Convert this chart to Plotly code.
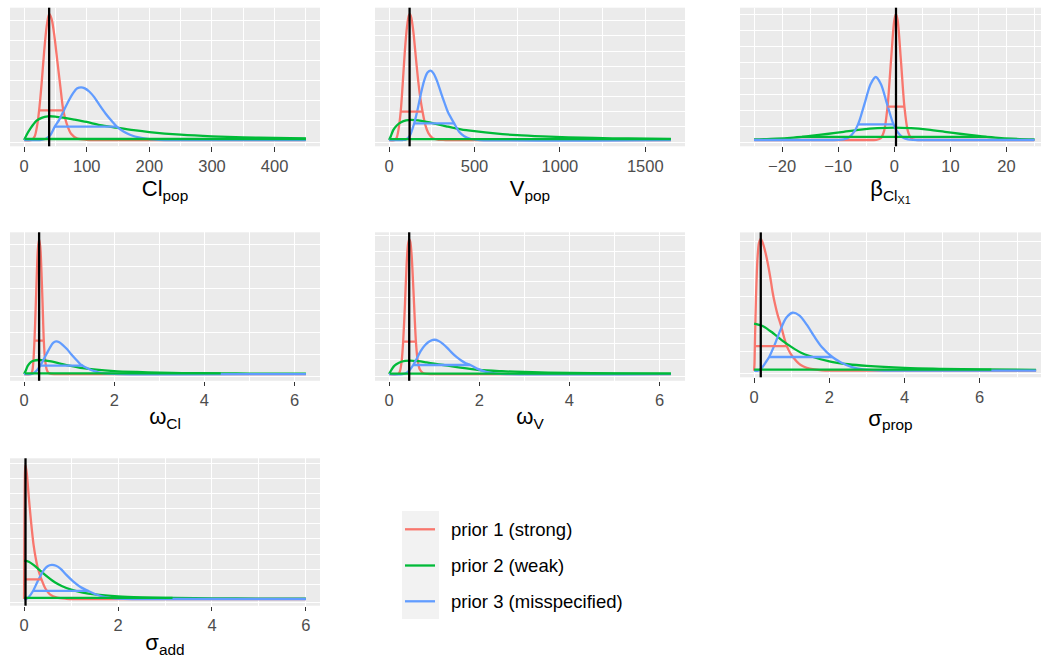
import plotly.graph_objects as go

W, H = 1041, 660
RED, GREEN, BLUE = "#F8766D", "#00BA38", "#619CFF"

# ---------------- Cl_pop ----------------
clpop_red_x = [0, 12, 17, 21, 24, 28, 32, 36, 40, 44, 48, 53, 58, 62.6, 68, 75, 85, 100, 120, 450]
clpop_red_y = [0, 0, 0.03, 0.12, 0.235, 0.45, 0.7, 0.9, 1.0, 0.96, 0.84, 0.63, 0.42, 0.235, 0.13, 0.05, 0.012, 0.002, 0, 0]
clpop_green_x = [0, 5, 10, 15, 20, 28, 38, 50, 65, 80, 100, 121, 148, 175, 200, 250, 300, 350, 400, 450]
clpop_green_y = [0, 0.05, 0.09, 0.125, 0.153, 0.176, 0.188, 0.186, 0.175, 0.162, 0.143, 0.119, 0.098, 0.078, 0.063, 0.042, 0.029, 0.021, 0.016, 0.013]
clpop_blue_x = [0, 25, 35, 42, 49, 56, 63, 70, 78, 85, 91, 97, 104, 112, 120, 130, 140, 148, 158, 170, 185, 200, 215, 240, 450]
clpop_blue_y = [0, 0, 0.01, 0.04, 0.106, 0.16, 0.23, 0.3, 0.37, 0.41, 0.418, 0.41, 0.385, 0.34, 0.28, 0.21, 0.15, 0.106, 0.07, 0.04, 0.018, 0.007, 0.002, 0, 0]
clpop_hdi = {"red": (24, 62.6, 0.235), "green": (1, 450, 0.008), "blue": (49, 148, 0.106)}
clpop_true = 40

# ---------------- V_pop ----------------
vpop_red_x = [0, 35, 45, 55, 68, 80, 92, 105, 115, 121, 130, 142, 155, 168, 182, 196, 212, 230, 255, 290, 330, 1650]
vpop_red_y = [0, 0, 0.02, 0.08, 0.225, 0.45, 0.7, 0.9, 0.985, 1.0, 0.97, 0.86, 0.68, 0.5, 0.34, 0.225, 0.12, 0.055, 0.015, 0.002, 0, 0]
vpop_green_x = [0, 10, 25, 45, 70, 100, 130, 170, 220, 280, 340, 420, 500, 620, 750, 900, 1050, 1200, 1400, 1650]
vpop_green_y = [0, 0.03, 0.08, 0.115, 0.14, 0.155, 0.159, 0.155, 0.143, 0.125, 0.107, 0.085, 0.07, 0.052, 0.038, 0.028, 0.021, 0.016, 0.012, 0.009]
vpop_blue_x = [0, 80, 100, 120, 147, 165, 185, 205, 225, 244, 262, 283, 305, 323, 345, 381, 410, 440, 480, 530, 1650]
vpop_blue_y = [0, 0, 0.005, 0.03, 0.132, 0.23, 0.36, 0.47, 0.535, 0.55, 0.525, 0.46, 0.37, 0.3, 0.22, 0.132, 0.065, 0.03, 0.008, 0, 0]
vpop_hdi = {"red": (68, 196, 0.225), "green": (3, 1650, 0.007), "blue": (147, 381, 0.132)}
vpop_true = 120

# ---------------- beta_Cl_X1 ----------------
beta_red_x = [-25, -4, -3.2, -2.4, -1.8, -1.2, -0.6, 0, 0.3, 0.6, 1.2, 1.8, 2.4, 3.0, 3.8, 4.6, 25]
beta_red_y = [0, 0, 0.001, 0.014, 0.074, 0.265, 0.62, 0.948, 1.0, 0.948, 0.62, 0.265, 0.074, 0.014, 0.001, 0, 0]
beta_green_x = [-25, -21, -18, -16.45, -15, -12, -9, -6, -3, 0, 3, 6, 9, 12, 15, 16.45, 18, 21, 25]
beta_green_y = [0.0043, 0.0108, 0.0195, 0.0253, 0.0318, 0.0476, 0.0653, 0.082, 0.0937, 0.098, 0.0937, 0.082, 0.0653, 0.0476, 0.0318, 0.0253, 0.0195, 0.0108, 0.0043]
beta_blue_x = [-25, -10.9, -9.95, -9.0, -8.05, -7.1, -6.465, -6.15, -5.2, -4.25, -3.3, -2.35, -1.4, -0.45, -0.135, 0.5, 1.45, 2.4, 3.35, 4.3, 25]
beta_blue_y = [0, 0, 0.001, 0.0056, 0.022, 0.068, 0.124, 0.162, 0.303, 0.441, 0.5, 0.441, 0.303, 0.162, 0.124, 0.068, 0.022, 0.0056, 0.001, 0, 0]
beta_hdi = {"red": (-1.2, 1.8, 0.265), "green": (-16.45, 16.45, 0.0253), "blue": (-6.465, -0.135, 0.124)}
beta_true = 0.3

# ---------------- omega_Cl ----------------
omcl_red_x = [0, 0.15, 0.18, 0.205, 0.23, 0.255, 0.28, 0.305, 0.333, 0.36, 0.385, 0.41, 0.437, 0.465, 0.5, 0.54, 0.6, 0.7, 6.25]
omcl_red_y = [0, 0, 0.02, 0.09, 0.247, 0.47, 0.72, 0.92, 1.0, 0.94, 0.76, 0.52, 0.247, 0.11, 0.035, 0.008, 0.001, 0, 0]
omcl_green_x = [0, 0.03, 0.08, 0.15, 0.22, 0.32, 0.45, 0.6, 0.8, 1.0, 1.3, 1.6, 2.0, 2.5, 3.0, 3.5, 4.36, 5.0, 6.25]
omcl_green_y = [0, 0.02, 0.06, 0.088, 0.099, 0.104, 0.101, 0.093, 0.078, 0.063, 0.044, 0.032, 0.022, 0.015, 0.01, 0.0075, 0.005, 0.0038, 0.0025]
omcl_blue_x = [0, 0.15, 0.22, 0.29, 0.36, 0.43, 0.5, 0.58, 0.65, 0.71, 0.78, 0.86, 0.95, 1.05, 1.15, 1.25, 1.3, 1.36, 1.5, 1.65, 1.85, 2.1, 6.25]
omcl_blue_y = [0, 0, 0.008, 0.03, 0.062, 0.105, 0.15, 0.2, 0.232, 0.242, 0.236, 0.215, 0.185, 0.145, 0.108, 0.072, 0.062, 0.05, 0.028, 0.013, 0.004, 0, 0]
omcl_hdi = {"red": (0.23, 0.437, 0.247), "green": (0.02, 4.36, 0.005), "blue": (0.36, 1.3, 0.062)}
omcl_true = 0.333

# ---------------- omega_V ----------------
omv_red_x = [0, 0.2, 0.24, 0.28, 0.312, 0.35, 0.39, 0.42, 0.446, 0.47, 0.5, 0.54, 0.57, 0.595, 0.63, 0.68, 0.75, 0.85, 0.95, 6.25]
omv_red_y = [0, 0, 0.02, 0.1, 0.24, 0.5, 0.82, 0.96, 1.0, 0.98, 0.88, 0.62, 0.4, 0.24, 0.11, 0.035, 0.008, 0.001, 0, 0]
omv_green_x = [0, 0.05, 0.1, 0.16, 0.27, 0.46, 0.65, 0.83, 1.0, 1.2, 1.4, 1.58, 2.0, 2.5, 3.0, 4.0, 5.0, 6.25]
omv_green_y = [0, 0.03, 0.055, 0.072, 0.091, 0.099, 0.095, 0.086, 0.077, 0.067, 0.056, 0.047, 0.03, 0.021, 0.015, 0.008, 0.005, 0.003]
omv_blue_x = [0, 0.3, 0.4, 0.47, 0.535, 0.6, 0.7, 0.8, 0.9, 1.0, 1.1, 1.2, 1.3, 1.4, 1.5, 1.6, 1.7, 1.8, 1.95, 2.15, 2.35, 2.6, 6.25]
omv_blue_y = [0, 0, 0.012, 0.035, 0.067, 0.105, 0.17, 0.215, 0.243, 0.254, 0.245, 0.222, 0.19, 0.155, 0.125, 0.1, 0.08, 0.067, 0.04, 0.016, 0.005, 0, 0]
omv_hdi = {"red": (0.312, 0.595, 0.24), "green": (0.02, 6.25, 0.003), "blue": (0.535, 1.8, 0.067)}
omv_true = 0.446

# ---------------- sigma_prop ----------------
sprop_red_x = [0, 0.01, 0.02, 0.05, 0.09, 0.13, 0.177, 0.23, 0.3, 0.36, 0.43, 0.49, 0.56, 0.63, 0.71, 0.8, 0.87, 0.97, 1.06, 1.15, 1.24, 1.4, 1.6, 1.8, 2.0, 7.5]
sprop_red_y = [0, 0.05, 0.187, 0.55, 0.85, 0.97, 1.0, 0.97, 0.9, 0.82, 0.71, 0.6, 0.5, 0.42, 0.347, 0.25, 0.187, 0.13, 0.094, 0.065, 0.043, 0.022, 0.01, 0.003, 0, 0]
sprop_green_x = [0, 0.25, 0.5, 0.75, 1.0, 1.25, 1.5, 2.0, 2.5, 3.0, 4.0, 5.0, 6.0, 7.5]
sprop_green_y = [0.357, 0.336, 0.286, 0.228, 0.179, 0.137, 0.11, 0.071, 0.049, 0.036, 0.021, 0.014, 0.0097, 0.0063]
sprop_blue_x = [0, 0.1, 0.2, 0.3, 0.4, 0.55, 0.7, 0.85, 1.02, 1.2, 1.4, 1.6, 1.8, 2.08, 2.3, 2.6, 2.9, 3.3, 3.7, 7.5]
sprop_blue_y = [0, 0, 0.02, 0.06, 0.104, 0.2, 0.31, 0.4, 0.44, 0.42, 0.35, 0.26, 0.18, 0.104, 0.065, 0.028, 0.01, 0.002, 0, 0]
sprop_hdi = {"red": (0.02, 0.87, 0.187), "green": (0, 6.31, 0.0087), "blue": (0.4, 2.08, 0.104)}
sprop_true = 0.177

# ---------------- sigma_add ----------------
sadd_red_x = [0, 0.005, 0.012, 0.02, 0.03, 0.06, 0.1, 0.15, 0.2, 0.25, 0.3, 0.37, 0.45, 0.55, 0.7, 0.9, 1.1, 6]
sadd_red_y = [0, 0.35, 0.75, 0.95, 1.0, 0.93, 0.76, 0.57, 0.41, 0.3, 0.22, 0.147, 0.08, 0.035, 0.01, 0.002, 0, 0]
sadd_green_x = [0, 0.1, 0.2, 0.3, 0.4, 0.5, 0.6, 0.7, 0.8, 1.0, 1.25, 1.5, 2.0, 2.5, 3.0, 3.16, 4.0, 5.0, 6.0]
sadd_green_y = [0.286, 0.278, 0.255, 0.225, 0.195, 0.165, 0.138, 0.115, 0.097, 0.07, 0.048, 0.034, 0.019, 0.012, 0.0085, 0.0077, 0.0048, 0.003, 0.0022]
sadd_blue_x = [0, 0.05, 0.1, 0.19, 0.3, 0.42, 0.5, 0.59, 0.68, 0.78, 0.9, 1.05, 1.2, 1.37, 1.55, 1.75, 2.0, 2.3, 6]
sadd_blue_y = [0, 0, 0.015, 0.06, 0.14, 0.215, 0.245, 0.254, 0.248, 0.225, 0.18, 0.13, 0.09, 0.06, 0.032, 0.013, 0.003, 0, 0]
sadd_hdi = {"red": (0.002, 0.37, 0.147), "green": (0, 3.16, 0.0077), "blue": (0.19, 1.37, 0.06)}
sadd_true = 0.03

prior_names = {"red": "prior 1 (strong)", "green": "prior 2 (weak)", "blue": "prior 3 (misspecified)"}
prior_colors = {"red": RED, "green": GREEN, "blue": BLUE}

# panel layout: pixel boxes (left, right, top, bottom), axis ranges, ticks, grid, title offset
panels = [
    dict(title="Cl<sub>pop</sub>", box=(10, 320, 7.7, 146.3), xr=[-22.5, 472.5], dt=100, mdt=50, so=6.5,
         curves={"red": (clpop_red_x, clpop_red_y), "green": (clpop_green_x, clpop_green_y), "blue": (clpop_blue_x, clpop_blue_y)},
         hdi=clpop_hdi, truth=clpop_true, ygrid=[-0.021, 0.155, 0.313, 0.471, 0.629, 0.787, 0.945]),
    dict(title="V<sub>pop</sub>", box=(375, 685, 7.7, 146.3), xr=[-82.5, 1732.5], dt=500, mdt=250, so=6.5,
         curves={"red": (vpop_red_x, vpop_red_y), "green": (vpop_green_x, vpop_green_y), "blue": (vpop_blue_x, vpop_blue_y)},
         hdi=vpop_hdi, truth=vpop_true, ygrid=[-0.021, 0.111, 0.23, 0.349, 0.468, 0.587, 0.706, 0.826, 0.945]),
    dict(title="β<sub>Cl<sub>X1</sub></sub>", box=(740, 1041, 7.7, 146.3), xr=[-27.5, 26.15], dt=10, mdt=5, so=6.5,
         curves={"red": (beta_red_x, beta_red_y), "green": (beta_green_x, beta_green_y), "blue": (beta_blue_x, beta_blue_y)},
         hdi=beta_hdi, truth=beta_true, ygrid=[-0.021, 0.111, 0.238, 0.364, 0.491, 0.617, 0.744, 0.871, 0.997]),
    dict(title="ω<sub>Cl</sub>", box=(10, 320, 232.3, 380.8), xr=[-0.3125, 6.5625], dt=2, mdt=1, so=0,
         curves={"red": (omcl_red_x, omcl_red_y), "green": (omcl_green_x, omcl_green_y), "blue": (omcl_blue_x, omcl_blue_y)},
         hdi=omcl_hdi, truth=omcl_true, ygrid=[-0.02, 0.148, 0.311, 0.474, 0.637, 0.8, 0.963]),
    dict(title="ω<sub>V</sub>", box=(375, 685, 232.3, 380.8), xr=[-0.3125, 6.5625], dt=2, mdt=1, so=0,
         curves={"red": (omv_red_x, omv_red_y), "green": (omv_green_x, omv_green_y), "blue": (omv_blue_x, omv_blue_y)},
         hdi=omv_hdi, truth=omv_true, ygrid=[-0.02, 0.109, 0.223, 0.338, 0.452, 0.567, 0.682, 0.796, 0.911, 1.026]),
    dict(title="σ<sub>prop</sub>", box=(740, 1041, 232.4, 377.3), xr=[-0.375, 7.63], dt=2, mdt=1, so=3.5,
         curves={"red": (sprop_red_x, sprop_red_y), "green": (sprop_green_x, sprop_green_y), "blue": (sprop_blue_x, sprop_blue_y)},
         hdi=sprop_hdi, truth=sprop_true, ygrid=[-0.02, 0.144, 0.283, 0.422, 0.561, 0.7, 0.839, 0.978]),
    dict(title="σ<sub>add</sub>", box=(10, 320, 458.3, 605.7), xr=[-0.3, 6.3], dt=2, mdt=1, so=1.5,
         curves={"red": (sadd_red_x, sadd_red_y), "green": (sadd_green_x, sadd_green_y), "blue": (sadd_blue_x, sadd_blue_y)},
         hdi=sadd_hdi, truth=sadd_true, ygrid=[-0.025, 0.109, 0.222, 0.335, 0.448, 0.561, 0.674, 0.787, 0.9, 1.013]),
]

FONT = "Liberation Sans, Arial, Helvetica, sans-serif"
fig = go.Figure()
layout = dict(
    width=W, height=H, margin=dict(l=0, r=0, t=0, b=0),
    paper_bgcolor="white", plot_bgcolor="#EBEBEB", showlegend=False,
    font=dict(family=FONT, color="#4D4D4D"),
)
shapes = []
annotations = []

for i, p in enumerate(panels, start=1):
    sfx = "" if i == 1 else str(i)
    xa, ya = "x" + sfx, "y" + sfx
    l, r, t, b = p["box"]
    layout["xaxis" + sfx] = dict(
        domain=[l / W, r / W], anchor=ya, range=p["xr"], dtick=p["dt"], tick0=0,
        showgrid=True, gridcolor="white", gridwidth=1.1, zeroline=False, showline=False,
        ticks="outside", ticklen=4.5, tickwidth=1.2, tickcolor="#333333",
        tickfont=dict(size=16.5, color="#4D4D4D"),
        minor=dict(dtick=p["mdt"], tick0=0, showgrid=True, gridcolor="white", gridwidth=0.55, ticks=""),
        title=dict(text=p["title"], font=dict(size=22, color="black"), standoff=p["so"]),
        fixedrange=True,
    )
    layout["yaxis" + sfx] = dict(
        domain=[1 - b / H, 1 - t / H], anchor=xa, range=[-0.05, 1.05],
        tickmode="array", tickvals=p["ygrid"], showticklabels=False, ticks="",
        showgrid=True, gridcolor="white", gridwidth=1.0, zeroline=False, showline=False,
        fixedrange=True,
    )
    for key in ("red", "green", "blue"):
        cx, cy = p["curves"][key]
        fig.add_trace(go.Scatter(
            x=cx, y=cy, mode="lines", name=prior_names[key], legendgroup=key,
            line=dict(color=prior_colors[key], width=2.3, shape="spline", smoothing=0.8),
            xaxis=xa, yaxis=ya, hoverinfo="skip",
        ))
    for key in ("red", "green", "blue"):
        x0, x1, yv = p["hdi"][key]
        fig.add_trace(go.Scatter(
            x=[x0, x1], y=[yv, yv], mode="lines", name=prior_names[key], legendgroup=key,
            line=dict(color=prior_colors[key], width=2.3),
            xaxis=xa, yaxis=ya, hoverinfo="skip",
        ))
    shapes.append(dict(type="line", xref=xa, yref=ya + " domain", x0=p["truth"], x1=p["truth"],
                       y0=0, y1=1, line=dict(color="black", width=2.3), layer="above"))

# legend: key background, key lines and labels
shapes.append(dict(type="rect", xref="paper", yref="paper", x0=402 / W, x1=439 / W,
                   y0=1 - 619 / H, y1=1 - 511 / H, fillcolor="#F2F2F2", line=dict(width=0), layer="below"))
for k, (key, yc) in enumerate(zip(("red", "green", "blue"), (529.3, 565.5, 601.3))):
    shapes.append(dict(type="line", xref="paper", yref="paper", x0=405 / W, x1=435 / W,
                       y0=1 - yc / H, y1=1 - yc / H, line=dict(color=prior_colors[key], width=2.3)))
    annotations.append(dict(text=prior_names[key], xref="paper", yref="paper", x=449 / W, y=1 - yc / H,
                            xanchor="left", yanchor="middle", showarrow=False,
                            font=dict(size=18.5, color="black", family=FONT)))

layout["shapes"] = shapes
layout["annotations"] = annotations
fig.update_layout(**layout)
fig.write_html("out.html")
